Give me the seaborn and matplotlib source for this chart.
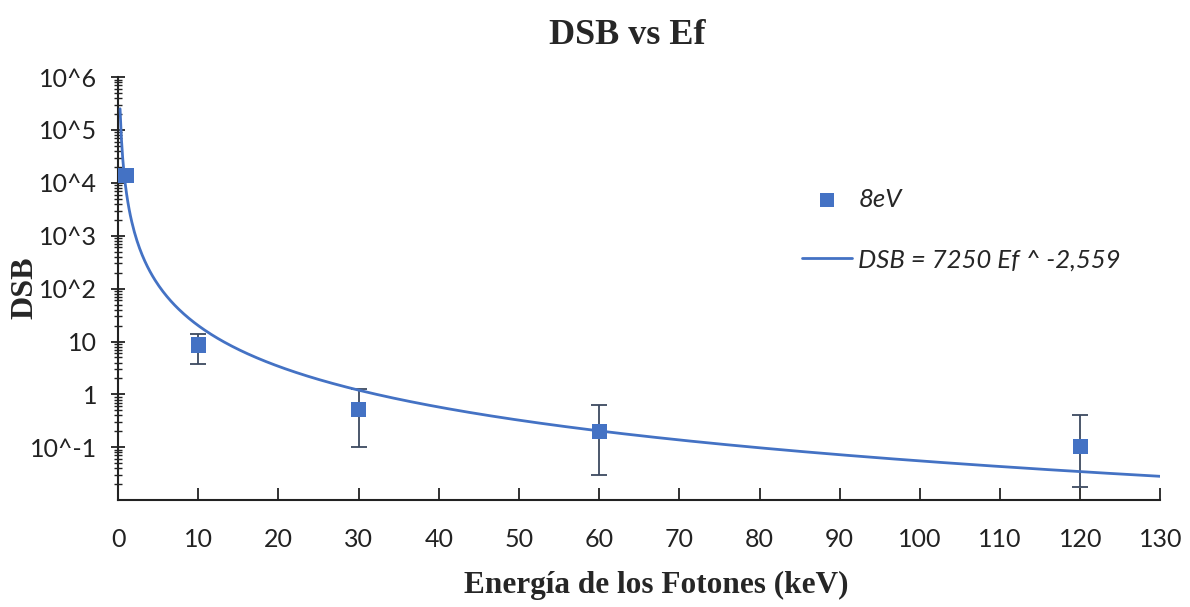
import numpy as np
import pandas as pd
import matplotlib
matplotlib.use("Agg")
import matplotlib.pyplot as plt
import matplotlib.ticker as mticker
import seaborn as sns

# Measured DSB values per photon energy (8 eV threshold)
energy_kev = [1, 10, 30, 60, 120]
dsb = [14000, 8.6, 0.52, 0.20, 0.104]
dsb_lower = [14000, 3.8, 0.10, 0.030, 0.0175]
dsb_upper = [14000, 14.1, 1.29, 0.62, 0.40]

# Power-law fit shown in the legend: DSB = A * Ef ^ B
fit_coef = 7250
fit_exp = -2.559
fit_label = "DSB = 7250 Ef ^ -2,559"
series_label = "8eV"

x_ticks = list(range(0, 131, 10))
y_ticks = [1e-1, 1, 10, 1e2, 1e3, 1e4, 1e5, 1e6]
y_tick_labels = ["10^-1", "1", "10", "10^2", "10^3", "10^4", "10^5", "10^6"]

blue = "#4472C4"
err_color = "#3d4a60"

sns.set_theme(style="white")

fig = plt.figure(figsize=(11.9, 6.07), dpi=100)
ax = fig.add_axes([0.0992, 0.176, 0.876, 0.697])

ef = np.linspace(0.25, 130, 800)
fit_df = pd.DataFrame({"Ef": ef, "DSB": fit_coef * ef ** fit_exp})
pts_df = pd.DataFrame({"Ef": energy_kev, "DSB": dsb})

err_low = np.array(dsb) - np.array(dsb_lower)
err_high = np.array(dsb_upper) - np.array(dsb)
ax.errorbar(energy_kev, dsb, yerr=[err_low, err_high], fmt="none",
            ecolor=err_color, elinewidth=1.3, capsize=6, capthick=1.3, zorder=2)
sns.lineplot(data=fit_df, x="Ef", y="DSB", ax=ax, color=blue, lw=2,
             label=fit_label, zorder=3)
sns.scatterplot(data=pts_df, x="Ef", y="DSB", ax=ax, color=blue, marker="s",
                s=120, edgecolor="none", label=series_label, zorder=4)

ax.set_yscale("log")
ax.set_xlim(0, 130)
ax.set_ylim(0.01, 1e6)
ax.set_xticks(x_ticks)
ax.set_yticks(y_ticks)
ax.set_yticklabels(y_tick_labels)
ax.yaxis.set_minor_locator(mticker.LogLocator(base=10, subs=np.arange(2, 10), numticks=50))
ax.yaxis.set_minor_formatter(mticker.NullFormatter())

for s in ["top", "right"]:
    ax.spines[s].set_visible(False)
for s in ["left", "bottom"]:
    ax.spines[s].set_color("#222222")
    ax.spines[s].set_linewidth(1.5)

ax.tick_params(axis="x", which="major", direction="in", length=9, width=1.3,
               color="#222222", labelsize=18, pad=20, bottom=True)
ax.tick_params(axis="y", which="major", direction="inout", length=10, width=1.3,
               color="#222222", labelsize=18, pad=10, left=True)
ax.tick_params(axis="y", which="minor", direction="inout", length=6, width=1,
               color="#222222", left=True)
for lab in ax.get_xticklabels() + ax.get_yticklabels():
    lab.set_fontfamily("Lato")
    lab.set_color("#222222")

ax.set_title("DSB vs Ef", fontfamily="Liberation Serif", fontweight="bold",
             fontsize=26, pad=24, x=0.4885)
ax.set_xlabel("Energía de los Fotones (keV)", fontfamily="Liberation Serif",
              fontweight="bold", fontsize=22.5)
ax.xaxis.set_label_coords(0.516, -0.168)
ax.set_ylabel("DSB", fontfamily="Liberation Serif", fontweight="bold",
              fontsize=23)
ax.yaxis.set_label_coords(-0.0758, 0.501)

handles, labels = ax.get_legend_handles_labels()
order = [labels.index(series_label), labels.index(fit_label)]
leg = ax.legend([handles[i] for i in order], [labels[i] for i in order],
                loc="upper left", bbox_to_anchor=(0.656, 0.738), frameon=False,
                borderaxespad=0, borderpad=0,
                prop={"family": "Lato", "style": "italic", "size": 18.5},
                labelspacing=1.45, handlelength=1.95, handletextpad=0.25,
                markerscale=0.9)

fig.savefig("out.png", dpi=100)
